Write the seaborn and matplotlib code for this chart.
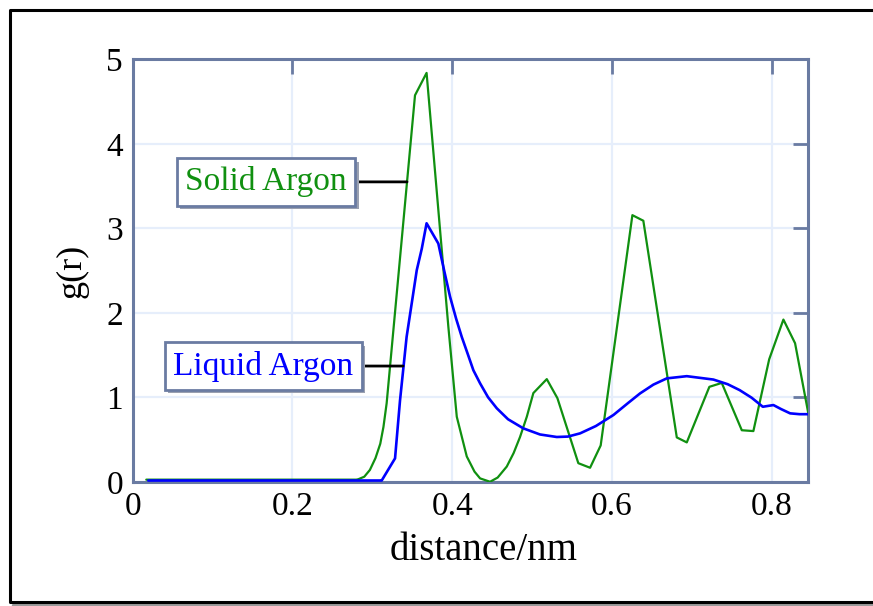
import matplotlib
matplotlib.use("Agg")
import matplotlib.pyplot as plt
import matplotlib.patheffects as pe
from matplotlib.lines import Line2D
import seaborn as sns

# Радиальная функция распределения
solid_r = [0.017, 0.28, 0.2825, 0.29, 0.297, 0.304, 0.31, 0.314, 0.318, 0.3535,
           0.368, 0.3953, 0.4058, 0.4183, 0.428, 0.435, 0.4475, 0.457, 0.4684, 0.477,
           0.485, 0.4935, 0.5017, 0.5185, 0.5318, 0.558, 0.5727, 0.586, 0.6257, 0.6394,
           0.6813, 0.6938, 0.7221, 0.7376, 0.7627, 0.7772, 0.797, 0.8148, 0.8294, 0.846]
solid_g = [0.025, 0.025, 0.03, 0.06, 0.14, 0.28, 0.45, 0.65, 0.93, 4.575,
           4.84, 1.83, 0.77, 0.30, 0.12, 0.04, 0.0, 0.05, 0.18, 0.34,
           0.53, 0.77, 1.05, 1.215, 0.99, 0.22, 0.166, 0.43, 3.156, 3.09,
           0.525, 0.466, 1.124, 1.17, 0.61, 0.60, 1.45, 1.92, 1.64, 0.81]

liquid_r = [0.0195, 0.31, 0.3118, 0.3285, 0.3347, 0.343, 0.35, 0.3557, 0.362, 0.368,
            0.3827, 0.39, 0.3974, 0.405, 0.412, 0.42, 0.4266, 0.435, 0.445, 0.4559,
            0.47, 0.4892, 0.51, 0.531, 0.545, 0.5602, 0.58, 0.6019, 0.62, 0.6353,
            0.652, 0.6688, 0.6938, 0.7271, 0.745, 0.76, 0.775, 0.789, 0.8023, 0.812,
            0.8232, 0.835, 0.846]
liquid_g = [0.015, 0.015, 0.015, 0.277, 0.96, 1.716, 2.15, 2.505, 2.76, 3.06,
            2.82, 2.5, 2.19, 1.93, 1.716, 1.5, 1.32, 1.165, 1.0, 0.87,
            0.74, 0.632, 0.56, 0.53, 0.535, 0.573, 0.66, 0.79, 0.93, 1.046,
            1.15, 1.224, 1.25, 1.21, 1.155, 1.085, 0.995, 0.888, 0.908, 0.86,
            0.81, 0.80, 0.80]

x_ticks = [0, 0.2, 0.4, 0.6, 0.8]
x_labels = ["0", "0.2", "0.4", "0.6", "0.8"]
y_ticks = [0, 1, 2, 3, 4, 5]

solid_color = "#109010"
liquid_color = "#0000ff"
frame_color = "#6a7ba2"

sns.set_style("white")
plt.rcParams["font.family"] = ["Liberation Serif", "DejaVu Serif"]
plt.rcParams["text.color"] = "black"
plt.rcParams["axes.labelcolor"] = "black"

fig = plt.figure(figsize=(8.73, 6.06), dpi=100)
ax = fig.add_axes([0.152, 0.205, 0.773, 0.697])

# Внешняя рамка (справа уходит за край), снизу серая тень
fx0, fy0, fy1 = 10 / 873, 1 - 602 / 606, 1 - 10 / 606
fig.add_artist(Line2D([fx0 + 0.004, 1.0], [fy0 - 0.005, fy0 - 0.005],
                      transform=fig.transFigure, color="#9a9a9a", lw=2.5))
fig.add_artist(Line2D([1.0, fx0, fx0, 1.0], [fy1, fy1, fy0, fy0],
                      transform=fig.transFigure, color="black", lw=2.2))

# Кривые
sns.lineplot(x=solid_r, y=solid_g, ax=ax, color=solid_color, lw=1.6,
             estimator=None, sort=False, zorder=3)
sns.lineplot(x=liquid_r, y=liquid_g, ax=ax, color=liquid_color, lw=1.9,
             estimator=None, sort=False, zorder=4)

ax.set_xlim(0, 0.845)
ax.set_ylim(0, 5)
ax.set_xticks(x_ticks)
ax.set_xticklabels(x_labels)
ax.set_yticks(y_ticks)

ax.grid(True, color="#e6eefb", lw=1.6)
ax.set_axisbelow(True)
for s in ax.spines.values():
    s.set_visible(True)
    s.set_color(frame_color)
    s.set_linewidth(2.2)
ax.tick_params(axis="both", which="major", direction="in", length=11, width=2,
               color=frame_color, top=True, right=True, labelsize=24, pad=7,
               labelcolor="black")

ax.set_xlabel("distance/nm", fontsize=28, va="center", color="black")
ax.set_ylabel("g(r)", fontsize=26, va="center", color="black")
ax.xaxis.set_label_coords(0.52, -0.162)
ax.yaxis.set_label_coords(-0.09, 0.5)

# Подписи кривых в рамках
box = dict(boxstyle="square,pad=0.25", facecolor="white", edgecolor=frame_color, lw=2)
for label, color, xy, xytext in [
    ("Solid Argon", solid_color, (0.3435, 3.55), (0.167, 3.55)),
    ("Liquid Argon", liquid_color, (0.3385, 1.37), (0.1636, 1.37)),
]:
    t = ax.annotate(label, xy=xy, xytext=xytext, textcoords="data",
                    ha="center", va="center", fontsize=24, color=color,
                    bbox=box, zorder=5,
                    arrowprops=dict(arrowstyle="-", color="black", lw=2,
                                    shrinkA=0, shrinkB=0))
    t.get_bbox_patch().set_path_effects([
        pe.SimplePatchShadow(offset=(2.5, -2.5), shadow_rgbFace="#9aa0b0", alpha=1),
        pe.Normal(),
    ])

fig.savefig("out.png", dpi=100, facecolor="white")
